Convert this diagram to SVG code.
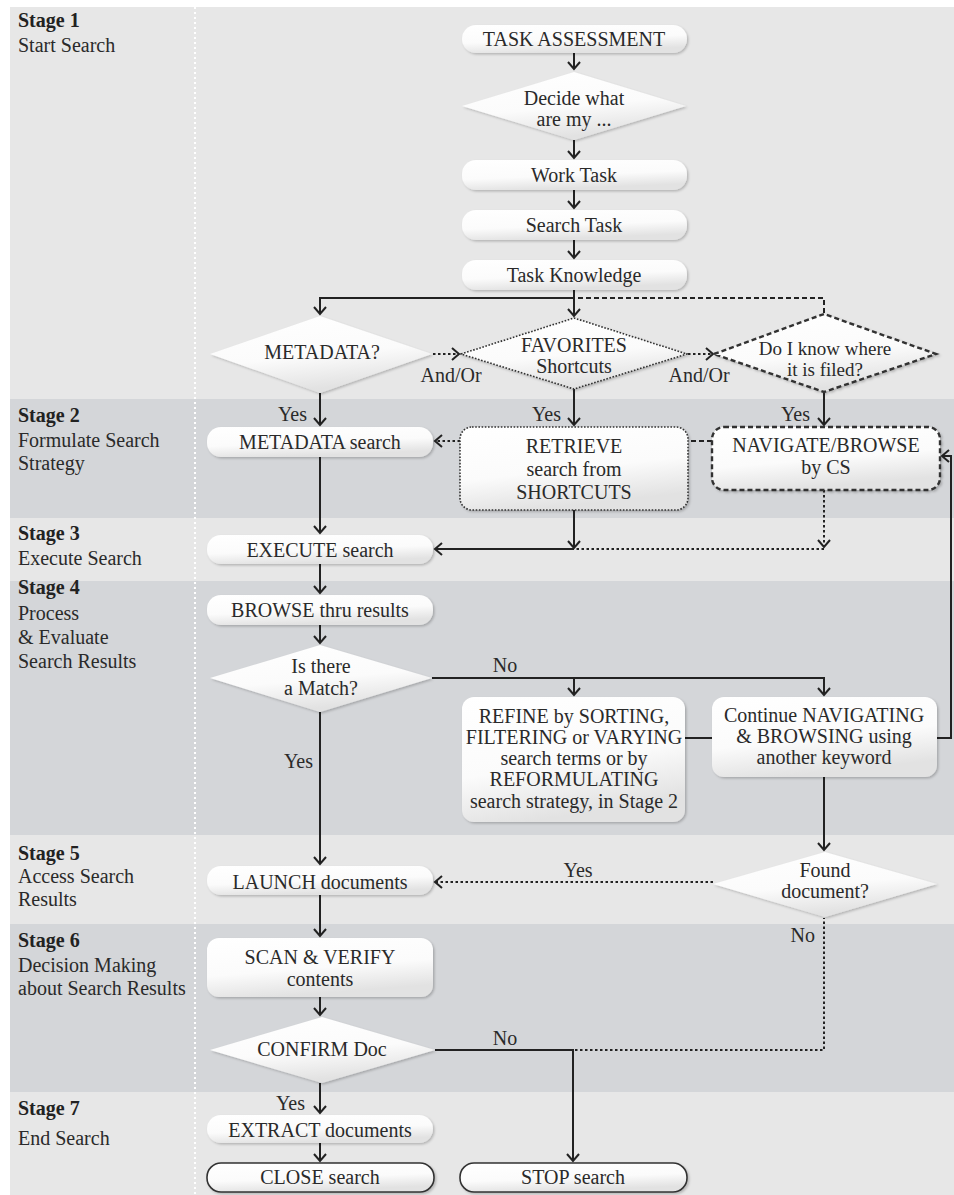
<svg xmlns="http://www.w3.org/2000/svg" width="954" height="1195" viewBox="0 0 954 1195">
<style>
.c{fill:none;stroke:#222;stroke-width:2}
.dot{stroke-dasharray:2.5,2.5}
.dsh{stroke-dasharray:5,3}
.box{fill:url(#g);filter:url(#sh)}
.nb{fill:url(#g);filter:url(#sh);stroke:#333;stroke-width:1.6}
.bdot{stroke:#333;stroke-width:1.6;stroke-dasharray:1.6,1.6}
.bdsh{stroke:#333;stroke-width:2.4;stroke-dasharray:5,3}
.t{font-family:"Liberation Serif","Times New Roman",serif;font-size:20px;fill:#2a2a2a;text-anchor:middle}
.l{font-family:"Liberation Serif","Times New Roman",serif;font-size:20px;fill:#2a2a2a}
.e{text-anchor:end}
.m{text-anchor:middle}
.sb{font-weight:bold;fill:#222}
.sm{font-size:19px}
</style>
<defs>
<linearGradient id="g" x1="0" y1="0" x2="0.3" y2="1">
<stop offset="0" stop-color="#ffffff"/>
<stop offset="0.6" stop-color="#fbfbfb"/>
<stop offset="1" stop-color="#e2e2e2"/>
</linearGradient>
<filter id="sh" x="-10%" y="-20%" width="130%" height="160%">
<feDropShadow dx="1.5" dy="1.5" stdDeviation="1.2" flood-color="#000" flood-opacity="0.22"/>
</filter>
<marker id="ah" markerUnits="userSpaceOnUse" markerWidth="14" markerHeight="16" refX="8" refY="7" orient="auto" overflow="visible">
<path d="M1,1 L8,7 L1,13" fill="none" stroke="#222" stroke-width="2"/>
</marker>
</defs>

<g id="background">
<rect x="10" y="7" width="944" height="392" fill="#e7e7e7"/>
<rect x="10" y="399" width="944" height="119" fill="#d4d6d9"/>
<rect x="10" y="518" width="944" height="63" fill="#e7e7e7"/>
<rect x="10" y="581" width="944" height="254" fill="#d4d6d9"/>
<rect x="10" y="835" width="944" height="89" fill="#e7e7e7"/>
<rect x="10" y="924" width="944" height="168" fill="#d4d6d9"/>
<rect x="10" y="1092" width="944" height="103" fill="#e7e7e7"/>
<line x1="195" y1="7" x2="195" y2="1195" stroke="#fff" stroke-width="2" stroke-dasharray="2,3"/>
</g>

<g id="stages">
<text class="l" x="18" y="27"><tspan class="sb">Stage 1</tspan><tspan x="18" y="52">Start Search</tspan></text>
<text class="l" x="18" y="422"><tspan class="sb">Stage 2</tspan><tspan x="18" y="447">Formulate Search</tspan><tspan x="18" y="470">Strategy</tspan></text>
<text class="l" x="18" y="540"><tspan class="sb">Stage 3</tspan><tspan x="18" y="565">Execute Search</tspan></text>
<text class="l" x="18" y="594"><tspan class="sb">Stage 4</tspan><tspan x="18" y="620">Process</tspan><tspan x="18" y="644">&amp; Evaluate</tspan><tspan x="18" y="668">Search Results</tspan></text>
<text class="l" x="18" y="860"><tspan class="sb">Stage 5</tspan><tspan x="18" y="883">Access Search</tspan><tspan x="18" y="906">Results</tspan></text>
<text class="l" x="18" y="947"><tspan class="sb">Stage 6</tspan><tspan x="18" y="972">Decision Making</tspan><tspan x="18" y="995">about Search Results</tspan></text>
<text class="l" x="18" y="1115"><tspan class="sb">Stage 7</tspan><tspan x="18" y="1145">End Search</tspan></text>
</g>

<g id="connectors">
<path class="c" d="M574,53 V69" marker-end="url(#ah)"/>
<path class="c" d="M574,140 V158" marker-end="url(#ah)"/>
<path class="c" d="M574,190 V208" marker-end="url(#ah)"/>
<path class="c" d="M574,240 V258" marker-end="url(#ah)"/>
<path class="c" d="M574,290 V298 H320 V314" marker-end="url(#ah)"/>
<path class="c" d="M574,298 V316" marker-end="url(#ah)"/>
<path class="c dsh" d="M578,298 H824 V313"/>
<path class="c dot" d="M433,354 H459" marker-end="url(#ah)"/>
<path class="c dot" d="M688,354 H713" marker-end="url(#ah)"/>
<path class="c" d="M320,393 V425" marker-end="url(#ah)"/>
<path class="c" d="M574,389 V425" marker-end="url(#ah)"/>
<path class="c" d="M824,392 V425" marker-end="url(#ah)"/>
<path class="c dsh" d="M712,441 H688"/>
<path class="c dot" d="M460,441 H435" marker-end="url(#ah)"/>
<path class="c" d="M320,457 V533" marker-end="url(#ah)"/>
<path class="c" d="M574,510 V548" marker-end="url(#ah)"/>
<path class="c" d="M574,549 H435" marker-end="url(#ah)"/>
<path class="c dot" d="M824,490 V547" marker-end="url(#ah)"/>
<path class="c dot" d="M824,549 H576"/>
<path class="c" d="M320,564 V593" marker-end="url(#ah)"/>
<path class="c" d="M320,625 V643" marker-end="url(#ah)"/>
<path class="c" d="M432,678 H824 V695" marker-end="url(#ah)"/>
<path class="c" d="M574,678 V695" marker-end="url(#ah)"/>
<path class="c" d="M685,738 H712"/>
<path class="c" d="M937,738 H951 V456 H942" marker-end="url(#ah)"/>
<path class="c" d="M824,777 V850" marker-end="url(#ah)"/>
<path class="c dot" d="M713,882 H435" marker-end="url(#ah)"/>
<path class="c" d="M320,712 V864" marker-end="url(#ah)"/>
<path class="c" d="M320,895 V936" marker-end="url(#ah)"/>
<path class="c" d="M320,997 V1015" marker-end="url(#ah)"/>
<path class="c" d="M435,1050 H573 V1161" marker-end="url(#ah)"/>
<path class="c dot" d="M575,1050 H824 V918"/>
<path class="c" d="M320,1083 V1113" marker-end="url(#ah)"/>
<path class="c" d="M320,1143 V1161" marker-end="url(#ah)"/>
</g>

<g id="edge-labels">
<text class="l m" x="451" y="382">And/Or</text>
<text class="l m" x="699" y="382">And/Or</text>
<text class="l e" x="307" y="421">Yes</text>
<text class="l e" x="561" y="421">Yes</text>
<text class="l e" x="810" y="421">Yes</text>
<text class="l m" x="505" y="672">No</text>
<text class="l e" x="313" y="768">Yes</text>
<text class="l m" x="578" y="877">Yes</text>
<text class="l e" x="815" y="942">No</text>
<text class="l m" x="505" y="1045">No</text>
<text class="l e" x="305" y="1110">Yes</text>
</g>

<g id="n-task-assessment"><rect class="box" x="462" y="25" width="225" height="28" rx="14"/><text class="t" x="574" y="46">TASK ASSESSMENT</text></g>
<g id="n-decide"><polygon class="box" points="462,106 574,72 686,106 574,140"/><text class="t" x="574" y="105">Decide what</text><text class="t" x="574" y="126">are  my ...</text></g>
<g id="n-work-task"><rect class="box" x="462" y="160" width="225" height="30" rx="14"/><text class="t" x="574" y="182">Work Task</text></g>
<g id="n-search-task"><rect class="box" x="462" y="210" width="225" height="30" rx="14"/><text class="t" x="574" y="232">Search Task</text></g>
<g id="n-task-knowledge"><rect class="box" x="462" y="260" width="225" height="30" rx="14"/><text class="t" x="574" y="282">Task Knowledge</text></g>

<g id="n-metadata-q"><polygon class="box" points="210,354 320,316 432,354 320,393"/><text class="t" x="322" y="359">METADATA?</text></g>
<g id="n-favorites"><polygon class="box bdot" points="461,354 574,318 687,354 574,389"/><text class="t" x="574" y="352">FAVORITES</text><text class="t" x="574" y="373">Shortcuts</text></g>
<g id="n-know-where"><polygon class="box bdsh" points="714,354 824,314 936,354 824,392"/><text class="t sm" x="825" y="355">Do I know where</text><text class="t sm" x="825" y="376">it is filed?</text></g>

<g id="n-metadata-search"><rect class="box" x="207" y="427" width="226" height="30" rx="14"/><text class="t" x="320" y="449">METADATA search</text></g>
<g id="n-retrieve"><rect class="box bdot" x="460" y="427" width="228" height="83" rx="12"/><text class="t" x="574" y="453">RETRIEVE</text><text class="t" x="574" y="476">search from</text><text class="t" x="574" y="499">SHORTCUTS</text></g>
<g id="n-navigate"><rect class="box bdsh" x="712" y="427" width="228" height="63" rx="12"/><text class="t" x="826" y="452">NAVIGATE/BROWSE</text><text class="t" x="826" y="474">by CS</text></g>

<g id="n-execute"><rect class="box" x="207" y="535" width="226" height="29" rx="14"/><text class="t" x="320" y="557">EXECUTE search</text></g>
<g id="n-browse"><rect class="box" x="207" y="595" width="226" height="30" rx="14"/><text class="t" x="320" y="617">BROWSE thru results</text></g>
<g id="n-match"><polygon class="box" points="210,678 320,645 432,678 320,712"/><text class="t" x="321" y="673">Is there</text><text class="t" x="321" y="695">a Match?</text></g>
<g id="n-refine"><rect class="box" x="462" y="697" width="223" height="125" rx="12"/><text class="t" x="574" y="723">REFINE by SORTING,</text><text class="t" x="574" y="744">FILTERING or VARYING</text><text class="t" x="574" y="765">search terms or by</text><text class="t" x="574" y="786">REFORMULATING</text><text class="t" x="574" y="808">search strategy, in Stage 2</text></g>
<g id="n-continue"><rect class="box" x="712" y="697" width="225" height="80" rx="12"/><text class="t" x="824" y="722">Continue NAVIGATING</text><text class="t" x="824" y="743">&amp; BROWSING using</text><text class="t" x="824" y="764">another keyword</text></g>

<g id="n-found"><polygon class="box" points="713,884 825,852 937,884 825,917"/><text class="t" x="825" y="877">Found</text><text class="t" x="825" y="898">document?</text></g>
<g id="n-launch"><rect class="box" x="207" y="866" width="226" height="29" rx="14"/><text class="t" x="320" y="889">LAUNCH documents</text></g>
<g id="n-scan"><rect class="box" x="207" y="938" width="226" height="59" rx="12"/><text class="t" x="320" y="964">SCAN &amp; VERIFY</text><text class="t" x="320" y="986">contents</text></g>
<g id="n-confirm"><polygon class="box" points="210,1050 322,1017 435,1050 322,1083"/><text class="t" x="322" y="1056">CONFIRM Doc</text></g>
<g id="n-extract"><rect class="box" x="207" y="1115" width="226" height="28" rx="14"/><text class="t" x="320" y="1137">EXTRACT documents</text></g>
<g id="n-close"><rect class="nb" x="207" y="1163" width="227" height="29" rx="14"/><text class="t" x="320" y="1184">CLOSE search</text></g>
<g id="n-stop"><rect class="nb" x="460" y="1163" width="227" height="29" rx="14"/><text class="t" x="573" y="1184">STOP search</text></g>
</svg>
